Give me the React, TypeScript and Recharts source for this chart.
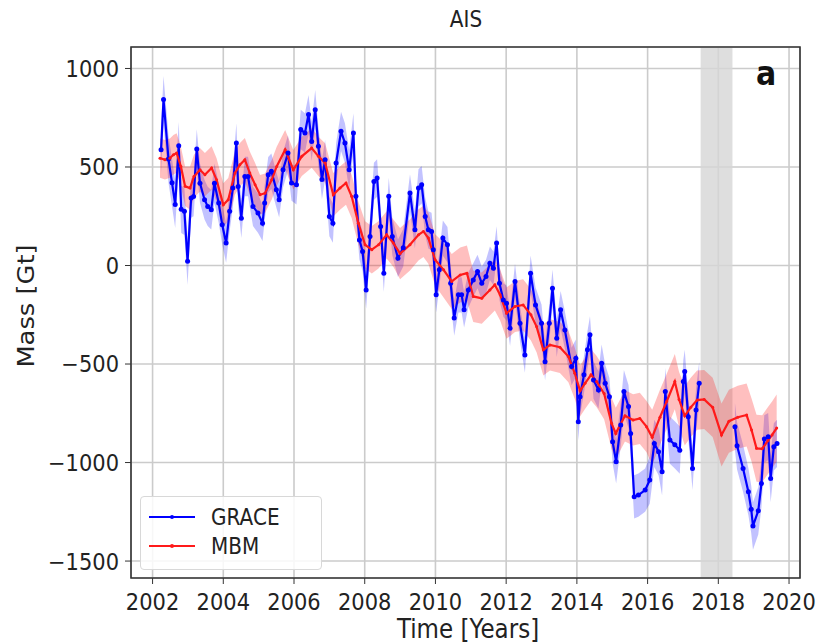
import { ComposedChart, Line, Area, XAxis, YAxis, CartesianGrid, ReferenceArea } from "recharts";

// GRACE monthly solutions (years, Gt)
const graceYears = [
  2002.24, 2002.31, 2002.45, 2002.55, 2002.64, 2002.74, 2002.81, 2002.9, 2002.99, 2003.09,
  2003.16, 2003.25, 2003.34, 2003.47, 2003.56, 2003.66, 2003.75, 2003.87, 2003.97, 2004.08,
  2004.18, 2004.27, 2004.37, 2004.42, 2004.51, 2004.61, 2004.7, 2004.84, 2004.98, 2005.11,
  2005.17, 2005.27, 2005.36, 2005.5, 2005.58, 2005.69, 2005.83, 2005.93, 2006.07, 2006.19,
  2006.31, 2006.41, 2006.5, 2006.6, 2006.69, 2006.79, 2006.88, 2007.0, 2007.1, 2007.19,
  2007.33, 2007.44, 2007.56, 2007.68, 2007.75, 2007.85, 2007.94, 2008.04, 2008.15, 2008.26,
  2008.35, 2008.45, 2008.54, 2008.68, 2008.78, 2008.94, 2009.09, 2009.28, 2009.42, 2009.52,
  2009.61, 2009.71, 2009.8, 2009.89, 2009.94, 2010.02, 2010.11, 2010.21, 2010.34, 2010.43,
  2010.53, 2010.65, 2010.74, 2010.81, 2010.93, 2011.07, 2011.19, 2011.31, 2011.43, 2011.54,
  2011.64, 2011.73, 2011.81, 2011.92, 2012.01, 2012.11, 2012.25, 2012.39, 2012.53, 2012.69,
  2012.83, 2013.0, 2013.1, 2013.22, 2013.31, 2013.43, 2013.54, 2013.66, 2013.85, 2013.97,
  2014.04, 2014.09, 2014.2, 2014.3, 2014.37, 2014.47, 2014.61, 2014.7, 2014.8, 2014.92,
  2015.01, 2015.11, 2015.24, 2015.33, 2015.46, 2015.52, 2015.62, 2015.74, 2015.93, 2016.06,
  2016.19, 2016.31, 2016.41, 2016.5, 2016.63, 2016.77, 2016.91, 2017.01, 2017.05, 2017.15,
  2017.27, 2017.37, 2017.46,
  2018.47, 2018.53, 2018.7, 2018.85, 2018.93, 2018.98, 2019.13, 2019.22, 2019.3, 2019.41,
  2019.48, 2019.57, 2019.66,
];
const graceMass = [
  588, 842, 540, 420, 310, 608, 285, 275, 21, 342,
  350, 591, 418, 334, 300, 283, 418, 317, 207, 114,
  275, 393, 622, 401, 240, 452, 452, 300, 266, 215,
  317, 461, 478, 385, 334, 486, 571, 419, 410, 690,
  673, 766, 630, 791, 605, 436, 537, 249, 215, 520,
  681, 622, 486, 673, 351, 130, 71, -124, 147, 427,
  444, 198, -39, 351, 147, 37, 90, 368, 181, 393,
  410, 249, 181, 173, 80, -149, -22, 139, 105, -90,
  -267, -149, -149, -225, -124, -73, -31, -90, -56, 12,
  -14, 114, -90, -175, -191, -318, -81, -293, -454, -39,
  -200, -293, -488, -293, -115, -369, -225, -327, -513, -471,
  -793, -666, -555, -428, -352, -581, -632, -496, -598, -666,
  -894, -996, -809, -640, -716, -852, -1174, -1165, -1140, -1089,
  -903, -945, -1047, -640, -886, -910, -937, -589, -538, -767,
  -1030, -733, -598,
  -818, -915, -1030, -1148, -1237, -1322, -1245, -1106, -880, -869,
  -1081, -920, -903,
];

// mass-balance model
const mbmYears = [
  2002.21, 2002.35, 2002.49, 2002.59, 2002.68, 2002.8, 2002.92, 2003.06, 2003.17, 2003.34,
  2003.48, 2003.67, 2003.81, 2004.0, 2004.14, 2004.33, 2004.47, 2004.61, 2004.75, 2004.9,
  2005.04, 2005.18, 2005.37, 2005.51, 2005.75, 2005.98, 2006.22, 2006.5, 2006.69, 2006.88,
  2007.11, 2007.3, 2007.47, 2007.63, 2007.82, 2008.01, 2008.2, 2008.39, 2008.62, 2008.81,
  2009.0, 2009.28, 2009.52, 2009.66, 2009.8, 2009.99, 2010.23, 2010.46, 2010.7, 2010.89,
  2011.07, 2011.31, 2011.54, 2011.68, 2011.83, 2012.01, 2012.25, 2012.48, 2012.7, 2012.86,
  2013.05, 2013.24, 2013.52, 2013.76, 2013.94, 2014.09, 2014.23, 2014.4, 2014.56, 2014.77,
  2014.98, 2015.1, 2015.36, 2015.59, 2015.78, 2015.97, 2016.13, 2016.35, 2016.54, 2016.77,
  2016.89, 2017.05, 2017.22, 2017.4, 2017.6, 2017.84, 2018.09, 2018.3, 2018.55, 2018.8,
  2018.94, 2019.08, 2019.24, 2019.4, 2019.52, 2019.65,
];
const mbmMass = [
  545, 537, 545, 562, 571, 503, 402, 393, 452, 486,
  461, 495, 435, 308, 334, 469, 512, 537, 469, 410,
  359, 367, 435, 503, 588, 486, 554, 596, 554, 520,
  359, 393, 419, 351, 215, 105, 80, 105, 156, 114,
  60, 105, 156, 173, 139, 29, -22, -81, -48, -39,
  -157, -166, -124, -98, -149, -242, -208, -200, -250, -310,
  -428, -403, -415, -462, -547, -636, -598, -555, -589, -650,
  -801, -852, -763, -784, -776, -818, -872, -770, -690, -589,
  -680, -763, -720, -683, -680, -720, -860, -790, -770, -759,
  -835, -928, -930, -890, -860, -825,
];

// half-width of the shaded uncertainty, by calendar year
const errYears = [2002, 2003, 2004, 2005, 2006, 2007, 2008, 2009, 2010, 2011, 2012, 2013, 2014, 2015, 2016, 2017, 2018, 2019];
const graceErr = [120, 100, 100, 90, 100, 100, 95, 95, 90, 85, 90, 95, 95, 110, 120, 110, 120, 120];
const mbmErr = [100, 110, 110, 100, 100, 110, 120, 130, 140, 130, 130, 130, 130, 130, 140, 150, 160, 170];

const xTicks = [2002, 2004, 2006, 2008, 2010, 2012, 2014, 2016, 2018, 2020];
const yTicks = [-1500, -1000, -500, 0, 500, 1000];
const gapStart = 2017.5;
const gapEnd = 2018.4;

const errFor = (t: number, errs: number[]) => errs[errYears.indexOf(Math.floor(t))] ?? errs[errs.length - 1];

const toRows = (years: number[], mass: number[], errs: number[]) =>
  years.map((t, i) => ({ t, v: mass[i], band: [mass[i] - errFor(t, errs), mass[i] + errFor(t, errs)] }));

const graceRows = toRows(graceYears, graceMass, graceErr);
const graceA = graceRows.filter((r) => r.t < gapStart);
const graceB = graceRows.filter((r) => r.t > gapEnd);
const mbmRows = toRows(mbmYears, mbmMass, mbmErr);

const X_DOMAIN: [number, number] = [2001.39, 2020.31];
const Y_DOMAIN: [number, number] = [-1586, 1109];
const FONT = "DejaVu Sans, sans-serif";
const BLUE = "#0000ff";
const RED = "#ff1a1a";
const TEXT = "#222";
const STRETCH = 1.12; // the source figure is a little taller than wide

const XTick = ({ x, y, payload }: any) => (
  <g transform={`translate(${x},${y}) scale(1,${STRETCH})`}>
    <text x={0} y={0} dy="0.75em" textAnchor="middle" fontSize={21} fill={TEXT} fontFamily={FONT}>
      {payload.value}
    </text>
  </g>
);

const YTick = ({ x, y, payload }: any) => (
  <g transform={`translate(${x},${y}) scale(1,${STRETCH})`}>
    <text x={0} y={0} dy="0.36em" textAnchor="end" fontSize={21} fill={TEXT} fontFamily={FONT}>
      {String(payload.value).replace("-", "\u2212")}
    </text>
  </g>
);

export default function App() {
  return (
    <div style={{ position: "absolute", left: 0, top: 0, width: 820, height: 643, background: "#fff", fontFamily: FONT, color: TEXT }}>
      <ComposedChart width={820} height={643} margin={{ top: 47, right: 20, bottom: 3, left: 61 }}>
        <CartesianGrid stroke="#cbcbcb" strokeWidth={1.6} />
        <ReferenceArea x1={gapStart} x2={gapEnd} y1={Y_DOMAIN[0]} y2={Y_DOMAIN[1]} fill="#d6d6d6" fillOpacity={0.8} stroke="none" ifOverflow="hidden" />
        <XAxis
          type="number"
          dataKey="t"
          domain={X_DOMAIN}
          ticks={xTicks}
          allowDataOverflow
          height={62}
          axisLine={false}
          tickSize={6}
          tickMargin={8}
          tickLine={{ stroke: "#333" }}
          tick={<XTick />}
        />
        <YAxis
          type="number"
          domain={Y_DOMAIN}
          ticks={yTicks}
          allowDataOverflow
          width={70}
          axisLine={false}
          tickSize={6}
          tickMargin={6}
          tickLine={{ stroke: "#333" }}
          tick={<YTick />}
        />
        <Area data={graceA} dataKey="band" stroke="none" fill={BLUE} fillOpacity={0.24} isAnimationActive={false} />
        <Area data={graceB} dataKey="band" stroke="none" fill={BLUE} fillOpacity={0.24} isAnimationActive={false} />
        <Area data={mbmRows} dataKey="band" stroke="none" fill={RED} fillOpacity={0.28} isAnimationActive={false} />
        <Line data={graceA} dataKey="v" stroke={BLUE} strokeWidth={2.2} dot={{ r: 2.5, fill: BLUE, stroke: BLUE, strokeWidth: 0 }} isAnimationActive={false} />
        <Line data={graceB} dataKey="v" stroke={BLUE} strokeWidth={2.2} dot={{ r: 2.5, fill: BLUE, stroke: BLUE, strokeWidth: 0 }} isAnimationActive={false} />
        <Line data={mbmRows} dataKey="v" stroke={RED} strokeWidth={2.2} dot={{ r: 1.5, fill: RED, stroke: RED, strokeWidth: 0 }} isAnimationActive={false} />
        <ReferenceArea x1={X_DOMAIN[0]} x2={X_DOMAIN[1]} y1={Y_DOMAIN[0]} y2={Y_DOMAIN[1]} fill="none" stroke="#333" strokeWidth={1.6} ifOverflow="visible" />
      </ComposedChart>

      <div style={{ position: "absolute", left: 466, top: 19, transform: `translate(-50%, -50%) scale(1, ${STRETCH})`, fontSize: 20, whiteSpace: "nowrap" }}>AIS</div>
      <div style={{ position: "absolute", left: 756, top: 56, transform: `scale(1, ${STRETCH})`, fontSize: 30, fontWeight: "bold", color: "#111" }}>a</div>
      <div style={{ position: "absolute", left: 468, top: 629, transform: `translate(-50%, -50%) scale(1, ${STRETCH})`, fontSize: 23, whiteSpace: "nowrap" }}>
        Time [Years]
      </div>
      <div
        style={{
          position: "absolute",
          left: 26,
          top: 306,
          transform: `translate(-50%, -50%) rotate(-90deg) scale(${STRETCH}, 1)`,
          whiteSpace: "nowrap",
          fontSize: 23,
        }}
      >
        Mass [Gt]
      </div>

      <div
        style={{
          position: "absolute",
          left: 140,
          top: 496,
          width: 180,
          height: 72,
          border: "1px solid #d8d8d8",
          borderRadius: 4,
          background: "rgba(255,255,255,0.85)",
          fontSize: 20,
        }}
      >
        {[
          { name: "GRACE", color: BLUE },
          { name: "MBM", color: RED },
        ].map((s, i) => (
          <div key={s.name} style={{ position: "absolute", left: 8, top: 8 + i * 29, height: 24, display: "flex", alignItems: "center" }}>
            <svg width={46} height={10} style={{ marginRight: 16 }}>
              <line x1={0} y1={5} x2={46} y2={5} stroke={s.color} strokeWidth={2} />
              <circle cx={23} cy={5} r={2} fill={s.color} />
            </svg>
            <span style={{ display: "inline-block", transform: `scale(1, ${STRETCH})` }}>{s.name}</span>
          </div>
        ))}
      </div>
    </div>
  );
}
